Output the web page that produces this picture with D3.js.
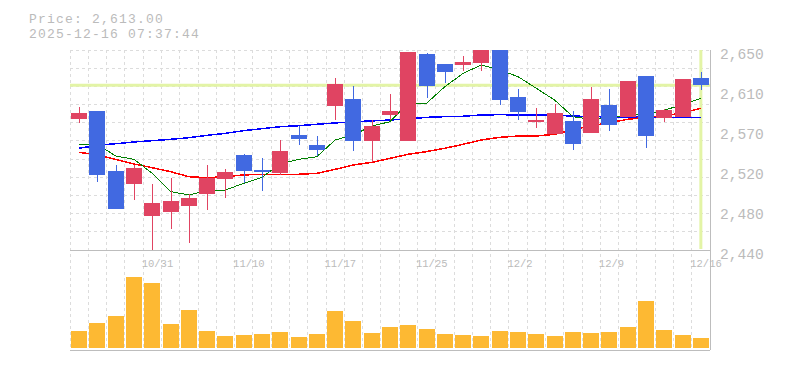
<!DOCTYPE html>
<html>
<head>
<meta charset="utf-8">
<script src="https://cdn.jsdelivr.net/npm/d3@7"></script>
<style>
  html, body { margin: 0; padding: 0; background: #fff; }
  svg { display: block; }
</style>
</head>
<body>
<svg id="chart" width="785" height="370"></svg>
<script>
const dates = ["10/27","10/28","10/29","10/30","10/31","11/4","11/5","11/6","11/7","11/10","11/11","11/12","11/13","11/14","11/17","11/18","11/19","11/20","11/21","11/25","11/26","11/27","11/28","12/1","12/2","12/3","12/4","12/5","12/8","12/9","12/10","12/11","12/12","12/15","12/16"];
const openP  = [2577.5,2586,2523,2509.3,2475.7,2479.9,2486.2,2499.1,2514.9,2540,2524.3,2520.5,2560.8,2550.3,2591.5,2598.6,2554.8,2582.1,2554.8,2645.8,2635.3,2634.6,2636.7,2650,2600.7,2574.4,2561.8,2575.5,2562.9,2592.3,2580,2622.7,2578.6,2579.7,2620.6];
const highP  = [2590.5,2586,2529.3,2529.3,2509.3,2515.9,2498.8,2529.3,2525,2541,2536.6,2555.5,2570.2,2559.7,2620.9,2612.2,2576.5,2603.8,2648,2646.5,2635.3,2643.7,2650,2650,2609,2589.1,2593.3,2586,2611.2,2609,2617.5,2622.7,2588,2619.6,2626.9];
const lowP   = [2573.7,2511.8,2483,2492.5,2440,2462,2447.7,2482,2494.6,2510,2502.3,2518.8,2550.3,2538.7,2576.5,2544.3,2532.7,2576.5,2554.8,2599.9,2615.7,2628.3,2628.3,2592.3,2576.5,2568.1,2561.8,2545,2562.9,2565,2580,2547.1,2574.4,2579.7,2608];
const closeP = [2584.2,2518.8,2483,2526.4,2489.4,2491.8,2494.6,2515.6,2521.9,2523,2522.2,2544,2556.6,2545,2614.3,2554.8,2570.2,2586.3,2648,2612.5,2626.9,2637.7,2650,2597.5,2584.9,2576.5,2583.9,2551.3,2598.6,2571.3,2617.5,2559.7,2587,2619.6,2613];
const volume = [177000,257000,323000,717000,657000,247000,383000,177000,127000,133000,143000,167000,117000,143000,373000,277000,157000,215000,233000,193000,147000,137000,127000,177000,167000,147000,127000,167000,157000,167000,217000,477000,187000,137000,107000];
const ma5  = [2551,2551,2538.7,2535.2,2520.5,2501.3,2497.8,2502.3,2503,2510,2516.3,2530.3,2535.2,2538,2555.5,2560.8,2570.2,2574.7,2594,2594,2611.5,2625.5,2634.3,2629,2622,2609.8,2597.5,2580,2577.2,2578,2581.8,2581.8,2587,2592.3,2599.3];
const ma25 = [2542.6,2539.8,2535.2,2530.3,2526.4,2522.2,2517,2515.9,2517,2518.8,2519.5,2519.5,2519.5,2520.5,2524.7,2529.3,2532,2536.3,2540.5,2543.3,2546.8,2551,2555.5,2558.3,2559.7,2559.7,2561.5,2566,2570.5,2573.7,2577.2,2579.3,2580.7,2584.2,2588.8];
const ma75 = [2546.8,2549.9,2551.6,2553.4,2554.8,2556.2,2557.9,2560.4,2562.5,2565.3,2567.4,2569.5,2570.5,2572,2573.4,2574.7,2575.5,2576.5,2577.6,2579.3,2580,2580.4,2581.8,2582.1,2581.8,2581.8,2581.4,2580.7,2580,2579.8,2579.7,2579.7,2579.3,2579.3,2579.3];
const yTickValues = [2440, 2482, 2524, 2566, 2608, 2650];
const yTickLabels = ["2,440","2,480","2,520","2,570","2,610","2,650"];
const xTickIndices = [4, 9, 14, 19, 24, 29, 34];
const currentPrice = 2613;
const titleLines = ["Price: 2,613.00", "2025-12-16 07:37:44"];

const svg = d3.select("#chart");
const L = 70, R = 710, T = 50, B = 250, VB = 350;
const idx = d3.range(dates.length);
const x = d3.scaleBand().domain(idx).range([L, R]).paddingInner(0.12).paddingOuter(0.06);
const step = x.step();
const cx = i => x(i) + x.bandwidth() / 2;
const y = d3.scaleLinear().domain([2440, 2650]).range([B, T]);
const yv = d3.scaleLinear().domain([0, 1000000]).range([348.3, 248.3]);

const gridColor = "#dcdcdc", axisColor = "#bdbdbd", textColor = "#bbbbbb";
const upColor = "#e04462", downColor = "#4169e1";
const monoFont = "'Liberation Mono', 'DejaVu Sans Mono', monospace";

svg.append("defs").append("clipPath").attr("id", "clipMain")
  .append("rect").attr("x", L).attr("y", T).attr("width", R - L).attr("height", B - T);

// grid
const grid = svg.append("g").attr("stroke", gridColor).attr("stroke-dasharray", "3,3").attr("shape-rendering", "crispEdges");
d3.range(11).forEach(k => {
  const yy = T + k * (B - T) / 11;
  grid.append("line").attr("x1", L).attr("x2", R).attr("y1", yy).attr("y2", yy);
});
d3.range(35).forEach(i => {
  const xx = L + i * step;
  grid.append("line").attr("x1", xx).attr("x2", xx).attr("y1", T).attr("y2", VB);
});

// borders
const border = svg.append("g").attr("stroke", axisColor).attr("shape-rendering", "crispEdges");
border.append("line").attr("x1", L).attr("x2", R).attr("y1", B).attr("y2", B);
border.append("line").attr("x1", L).attr("x2", R).attr("y1", VB).attr("y2", VB);
border.append("line").attr("x1", R).attr("x2", R).attr("y1", T).attr("y2", VB);

// highlight lines
const hl = "#e3f4a6";
svg.append("line").attr("x1", L).attr("x2", R).attr("y1", y(currentPrice)).attr("y2", y(currentPrice))
  .attr("stroke", hl).attr("stroke-width", 3);
const last = dates.length - 1;
svg.append("line").attr("x1", cx(last)).attr("x2", cx(last)).attr("y1", T).attr("y2", B - 1)
  .attr("stroke", hl).attr("stroke-width", 3);

// moving averages
const mg = svg.append("g").attr("clip-path", "url(#clipMain)").attr("fill", "none").attr("shape-rendering", "crispEdges");
[[ma75, "#0000ff", 1.5], [ma25, "#ff0000", 1.5], [ma5, "#008000", 1]].forEach(([arr, col, w]) => {
  mg.append("path").datum(arr)
    .attr("d", d3.line().x((d, i) => cx(i)).y(d => y(d)))
    .attr("stroke", col).attr("stroke-width", w);
});

// candles
const cg = svg.append("g").attr("clip-path", "url(#clipMain)").attr("shape-rendering", "crispEdges");
idx.forEach(i => {
  const up = closeP[i] >= openP[i];
  const col = up ? upColor : downColor;
  cg.append("line").attr("x1", Math.round(cx(i)) + 0.5).attr("x2", Math.round(cx(i)) + 0.5)
    .attr("y1", y(highP[i])).attr("y2", y(lowP[i])).attr("stroke", col).attr("stroke-width", 1);
  const top = y(Math.max(openP[i], closeP[i])), bot = y(Math.min(openP[i], closeP[i]));
  cg.append("rect").attr("x", x(i)).attr("width", x.bandwidth())
    .attr("y", top).attr("height", Math.max(2, bot - top)).attr("fill", col);
});

// volume
svg.append("g").attr("shape-rendering", "crispEdges").selectAll("rect").data(volume).join("rect")
  .attr("x", (d, i) => x(i)).attr("width", x.bandwidth())
  .attr("y", d => yv(d)).attr("height", d => yv(0) - yv(d)).attr("fill", "#fdb933");

// y axis
const yAxis = svg.append("g").attr("transform", `translate(${R},0)`)
  .call(d3.axisRight(y).tickValues(yTickValues).tickFormat((d, i) => yTickLabels[i]).tickSize(0));
yAxis.select(".domain").remove();
yAxis.selectAll("text").attr("x", 10).attr("dy", "0.58em")
  .attr("font-family", monoFont).attr("font-size", 14.6)
  .attr("fill", textColor).attr("text-anchor", "start");

// x axis
const xAxis = svg.append("g").attr("transform", `translate(0,${B})`)
  .call(d3.axisBottom(x).tickValues(xTickIndices).tickFormat(i => dates[i]).tickSize(0));
xAxis.select(".domain").remove();
xAxis.selectAll("text").attr("x", -10.6).attr("y", 16.5).attr("dy", 0)
  .attr("text-anchor", "start")
  .attr("font-family", monoFont).attr("font-size", 10.5)
  .attr("fill", textColor);

// title
svg.append("g").selectAll("text").data(titleLines).join("text")
  .attr("x", 29).attr("y", (d, i) => 23 + i * 15)
  .attr("font-family", monoFont).attr("font-size", 13).attr("letter-spacing", 1.2)
  .attr("fill", textColor).text(d => d);
</script>
</body>
</html>
